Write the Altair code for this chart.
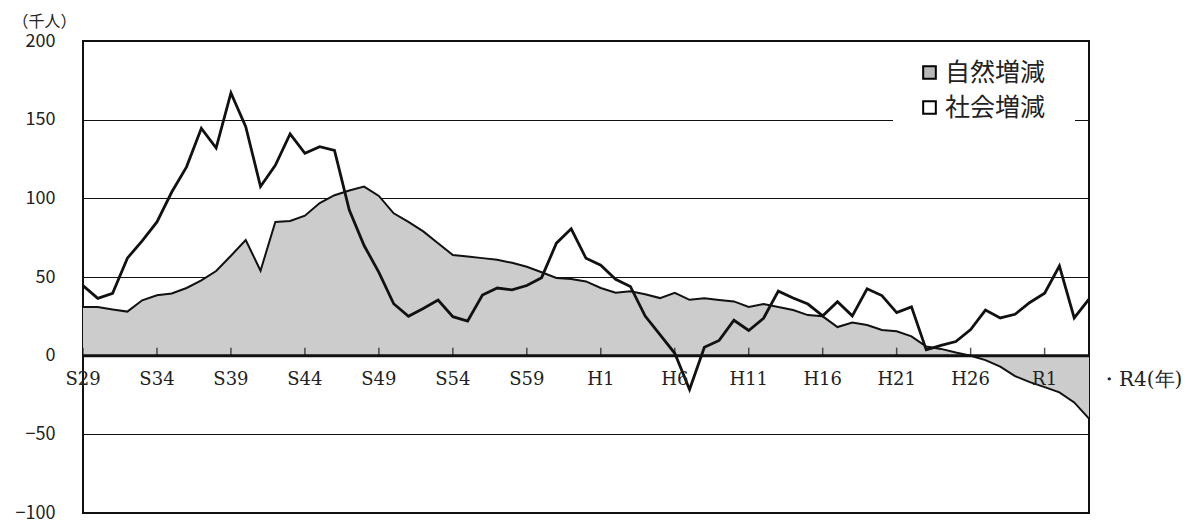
import altair as alt
import pandas as pd

years = list(range(1954, 2023))
natural = [31, 31, 29.4, 28, 35.2, 38.4, 39.5, 43, 47.8, 53.8, 63.5, 73.5, 54, 85, 85.6,
           89, 97, 102, 105, 107.5, 101.5, 90.5, 85, 79, 71.4, 64, 63, 62, 61, 59,
           56.5, 53, 49.4, 48.7, 47.2, 43, 40, 41, 39, 36.6, 40, 35.5, 36.5, 35.4, 34.5,
           31, 32.8, 31, 29, 25.8, 25, 18.2, 21, 19.5, 16.3, 15.5, 12.3, 5.8, 4.3,
           2, 0, -2.8, -7, -13, -16.8, -20, -23.3, -29.7, -40]
social = [44.5, 36.4, 39.6, 62, 73, 85, 104, 120, 144.5, 132, 167, 145.5, 107.5, 121, 141,
          128.6, 132.8, 130.4, 92.5, 70, 53, 33, 25, 30, 35.4, 24.8, 22, 38.5, 43, 41.8,
          44.6, 49.6, 71.5, 80.6, 61.9, 57.5, 48.5, 44, 25.2, 13.4, 1.5, -21.5, 5.4, 9.7,
          22.5, 16, 23.8, 41, 36.7, 32.8, 25.3, 34.3, 25.3, 42.5, 38.2, 27.4, 31, 3.7,
          6.5, 9, 16.6, 29, 24, 26.3, 33.8, 39.7, 57, 24, 36]
series_names = ["自然増減", "社会増減"]
tick_years = [1954, 1959, 1964, 1969, 1974, 1979, 1984, 1989, 1994, 1999, 2004, 2009, 2014, 2019]
tick_labels = ["S29", "S34", "S39", "S44", "S49", "S54", "S59", "H1", "H6", "H11", "H16", "H21", "H26", "R1"]
last_year = [2022]
last_label = ["・R4(年)"]
y_ticks = [-100, -50, 0, 50, 100, 150, 200]

df = pd.DataFrame({"year": years, "natural": natural, "social": social})
legend_df = pd.DataFrame({"series": series_names})
ticks_df = pd.DataFrame({"year": tick_years, "label": tick_labels})
last_df = pd.DataFrame({"year": last_year, "label": last_label})

xs = alt.Scale(domain=[1954, 2022], nice=False, zero=False)
ys = alt.Scale(domain=[-100, 200], nice=False)

X = alt.X("year:Q", scale=xs, axis=None)

yaxis = alt.Axis(values=y_ticks, grid=True, gridColor="#111", gridWidth=1, domain=False,
                 ticks=False, labelPadding=28, labelFont="Noto Sans CJK JP", labelFontSize=18,
                 labelColor="#222", title="（千人）", titleAngle=0, titleX=-71, titleY=-20,
                 titleAlign="left", titleBaseline="middle", titleFont="Noto Sans CJK JP",
                 titleFontSize=16, titleFontWeight="normal", titleColor="#222")

legend_bg = alt.Chart(legend_df).mark_rect(color="white").encode(
    x=alt.value(810), x2=alt.value(992), y=alt.value(14), y2=alt.value(88))

area = alt.Chart(df).mark_area(color="#cccccc", opacity=1).encode(
    x=X, y=alt.Y("natural:Q", scale=ys, axis=yaxis))
nat_line = alt.Chart(df).mark_line(color="#111", strokeWidth=2).encode(
    x=X, y=alt.Y("natural:Q", scale=ys))
soc_line = alt.Chart(df).mark_line(color="#111", strokeWidth=2.8).encode(
    x=X, y=alt.Y("social:Q", scale=ys))
zero = alt.Chart(legend_df.head(1)).mark_rule(color="#111", strokeWidth=3).encode(
    y=alt.Y("z:Q", scale=ys)).transform_calculate(z="0")
ticks = alt.Chart(ticks_df).mark_tick(color="#111", size=8, thickness=1.5, yOffset=-4).encode(
    x=X, y=alt.Y("z:Q", scale=ys)).transform_calculate(z="0")
labels = alt.Chart(ticks_df).mark_text(font="DejaVu Serif", fontSize=18, color="#222",
                                        dy=24, baseline="middle").encode(
    x=X, y=alt.Y("z:Q", scale=ys), text="label:N").transform_calculate(z="0")
last = alt.Chart(last_df).mark_text(font="DejaVu Serif", fontSize=20, color="#222",
                                     dx=10, dy=24, align="left", baseline="middle").encode(
    x=X, y=alt.Y("z:Q", scale=ys), text="label:N").transform_calculate(z="0")
leg = alt.Chart(legend_df).mark_point(shape="square", filled=True, size=0, stroke="black",
                                      strokeWidth=2).encode(
    x=alt.value(-1000), y=alt.value(-1000),
    fill=alt.Fill("series:N", scale=alt.Scale(domain=series_names, range=["#b8b8b8", "#ffffff"]),
                  legend=alt.Legend(orient="none", legendX=834, legendY=19, title=None,
                                    labelFont="Noto Sans CJK JP", labelFontSize=25,
                                    labelColor="#222", symbolType="square", symbolSize=160,
                                    symbolStrokeColor="black", symbolStrokeWidth=2,
                                    symbolOpacity=1, rowPadding=9, labelOffset=3, padding=0)))

chart = alt.layer(legend_bg, area, nat_line, soc_line, zero, ticks, labels, last, leg).properties(
    width=1006, height=472,
    autosize=alt.AutoSizeParams(type="none"),
    padding={"left": 75, "top": 33, "right": 95, "bottom": 8},
    background="white",
).configure_view(stroke="#111", strokeWidth=2)

chart.save("out.html", embed_options={"renderer": "svg", "actions": False})
